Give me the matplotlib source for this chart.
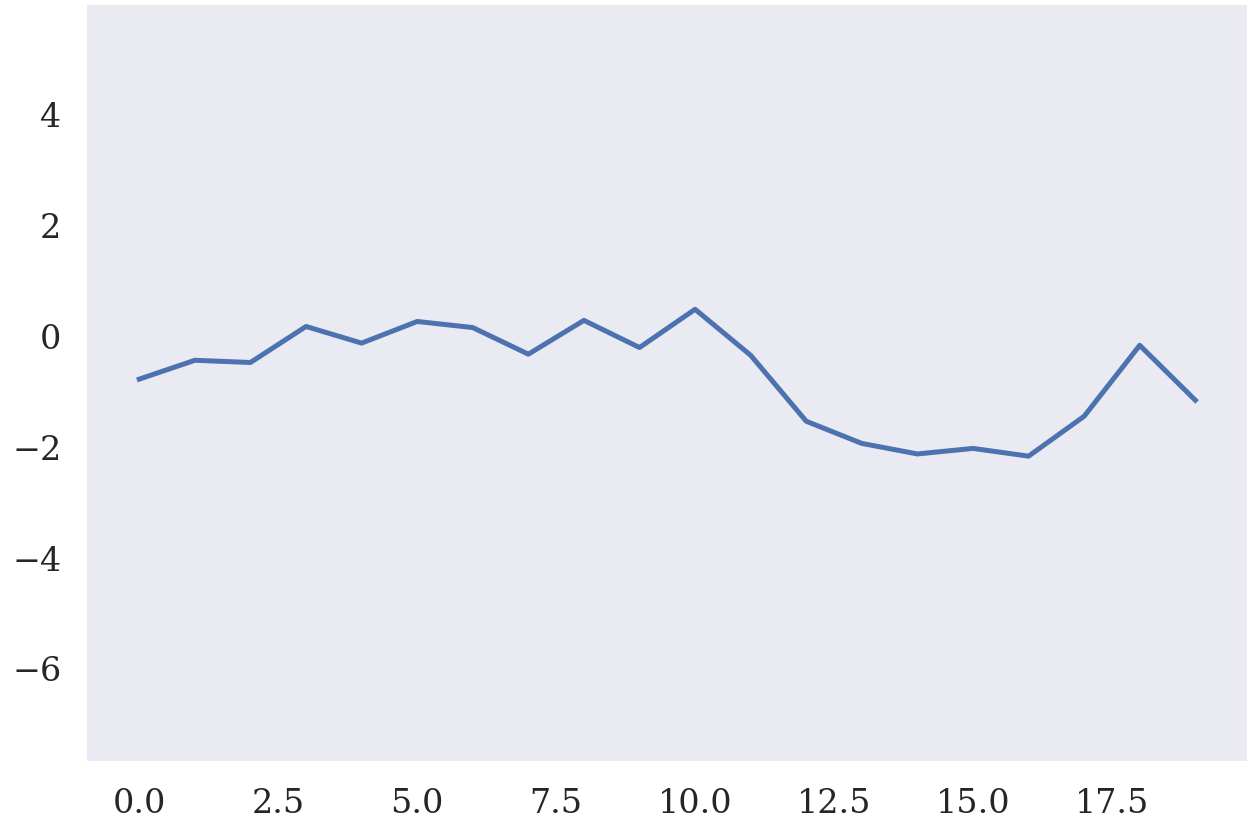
import numpy as np
import matplotlib
matplotlib.use('Agg')
import matplotlib.pyplot as plt

x = np.arange(20)
values = [-0.79, -0.45, -0.49, 0.16, -0.14, 0.25, 0.14, -0.34, 0.27, -0.22,
          0.47, -0.36, -1.55, -1.95, -2.14, -2.04, -2.18, -1.46, -0.18, -1.17]

plt.rcParams['font.family'] = 'DejaVu Serif'

fig = plt.figure(figsize=(12.47, 8.2), dpi=100)
ax = fig.add_axes([0.0698, 0.0707, 0.9302, 0.922])
ax.set_facecolor('#EAEAF2')
for s in ax.spines.values():
    s.set_visible(False)

ax.plot(x, values, color='#4C72B0', linewidth=3.6)

ax.set_xlim(-0.94, 19.93)
ax.set_ylim(-7.68, 5.96)
ax.set_xticks(np.arange(0, 19, 2.5))
ax.set_yticks([-6, -4, -2, 0, 2, 4])
ax.tick_params(length=0, labelsize=24, labelcolor='#262626', pad=18.5)

fig.savefig('out.png', dpi=100)
